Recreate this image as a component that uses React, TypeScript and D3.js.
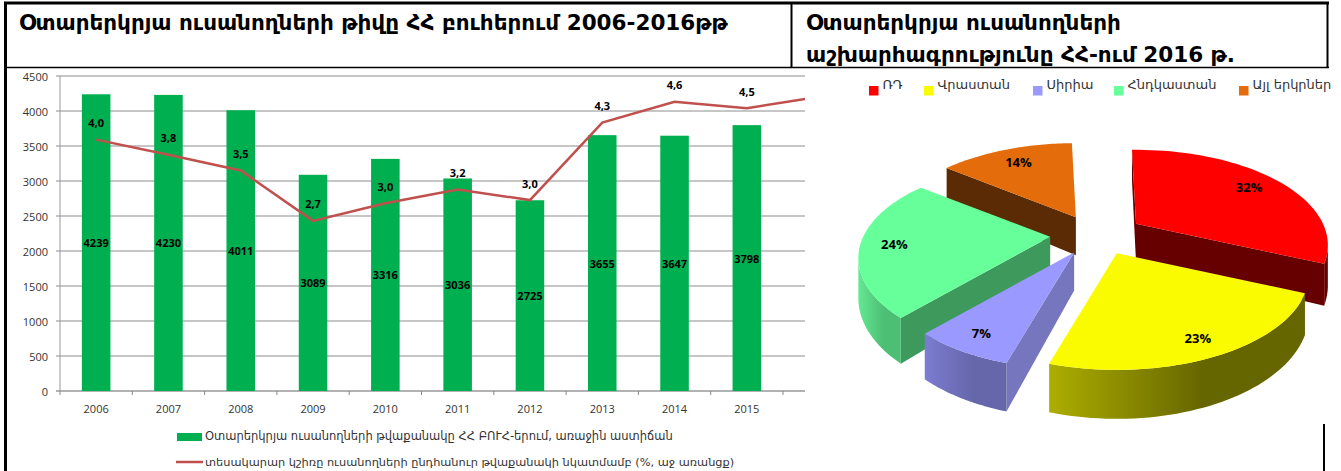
import React from "react";
import * as d3 from "d3";

const years = ["2006","2007","2008","2009","2010","2011","2012","2013","2014","2015","2016"];
const students = [4239,4230,4011,3089,3316,3036,2725,3655,3647,3798];
const shares = [3.99,3.75,3.5,2.7,2.98,3.2,3.03,4.26,4.59,4.49,4.67];
const yTicks = [0,500,1000,1500,2000,2500,3000,3500,4000,4500];
const sliceNames = ["ՌԴ","Վրաստան","Սիրիա","Հնդկաստան","Այլ երկրներ"];
const sliceValues = [32,23,7,24,14];
const sliceTop = ["#FF0000","#FBFB00","#9999FF","#66FF99","#E46C0A"];
const sliceWall = ["#660000","#666600","#7676BF","#3D995C","#5A2B04"];
const sliceRimFrom = ["#660000","#ADAD00","#7C7CD2","#64E892","#5A2B04"];
const sliceRimTo = ["#660000","#666600","#6666AA","#4CBF74","#5A2B04"];
const titleLeft = "Օտարերկրյա ուսանողների թիվը ՀՀ բուհերում 2006-2016թթ";
const titleRight = ["Օտարերկրյա ուսանողների","աշխարհագրությունը ՀՀ-ում 2016 թ."];
const legendBar = "Օտարերկրյա ուսանողների թվաքանակը ՀՀ ԲՈՒՀ-երում, առաջին աստիճան";
const legendLine = "տեսակարար կշիռը ուսանողների ընդհանուր թվաքանակի նկատմամբ (%, աջ առանցք)";

const font = "'DejaVu Sans', 'Noto Sans', sans-serif";
const axisFont = "'Open Sans', 'Liberation Sans', sans-serif";

const plotLeft = 60, plotRight = 805, plotTop = 76, plotBottom = 391, step = 72.3;
const x = d3.scaleBand<string>().domain(years).range([plotLeft, plotLeft + step * years.length]).paddingInner(0.605).paddingOuter(0.3025);
const y = d3.scaleLinear().domain([0, 4500]).range([plotBottom, plotTop]);
const yShare = d3.scaleLinear().domain([0, 5]).range([plotBottom, plotTop]);
const cx = (yr: string) => (x(yr) as number) + x.bandwidth() / 2;
const linePath = d3.line<number>().x((_, i) => cx(years[i])).y(d => yShare(d))(shares) as string;

// 3D pie projection
const center = { x: 1097, y: 235 };
const rx = 187, ry = 90.6, persp = 0.224, depth = 38, ex = 47, ey = 20, startAngle = -1.5;
const pieArcs = d3.pie<number>().sort(null).startAngle(startAngle * Math.PI / 180).endAngle((360 + startAngle) * Math.PI / 180)(sliceValues);
const proj = (t: number, r = 1) => {
  const u = Math.sin(t), v = -Math.cos(t);
  const k = 1 / (1 - persp * v);
  return { x: rx * u * k * r, y: ry * v * k * r, k };
};
const pathOf = (pts: [number, number][]) => (d3.line()(pts) as string) + "Z";

function Slice({ i }: { i: number }) {
  const a = pieArcs[i];
  const mid = (a.startAngle + a.endAngle) / 2;
  const ax = center.x + ex * Math.sin(mid), ay = center.y - ey * Math.cos(mid);
  const n = 48;
  const ts = d3.range(n + 1).map(j => a.startAngle + (a.endAngle - a.startAngle) * j / n);
  const pt = (t: number) => { const p = proj(t); return { x: ax + p.x, y: ay + p.y, d: depth * p.k }; };
  const arcPts = ts.map(pt);
  const top: [number, number][] = [[ax, ay], ...arcPts.map(p => [p.x, p.y] as [number, number])];
  const first = arcPts[0], last = arcPts[n];
  const rimPts = arcPts.filter((p, j) => j === n ? arcPts[j - 1].x > p.x : arcPts[j + 1].x < p.x);
  const rim: [number, number][] = [...rimPts.map(p => [p.x, p.y] as [number, number]), ...rimPts.slice().reverse().map(p => [p.x, p.y + p.d] as [number, number])];
  const xs = rimPts.map(p => p.x);
  const gid = `rim${i}`;
  return (
    <g>
      <defs>
        <linearGradient id={gid} gradientUnits="userSpaceOnUse" x1={d3.min(xs) ?? 0} x2={(d3.min(xs) ?? 0) + ((d3.max(xs) ?? 1) - (d3.min(xs) ?? 0)) * 0.6} y1={0} y2={0}>
          <stop offset="0" stopColor={sliceRimFrom[i]} />
          <stop offset="1" stopColor={sliceRimTo[i]} />
        </linearGradient>
      </defs>
      {first.x < ax && <path d={pathOf([[ax, ay], [first.x, first.y], [first.x, first.y + first.d], [ax, ay + depth]])} fill={sliceWall[i]} />}
      {last.x > ax && <path d={pathOf([[last.x, last.y], [ax, ay], [ax, ay + depth], [last.x, last.y + last.d]])} fill={sliceWall[i]} />}
      {rimPts.length > 1 && <path d={pathOf(rim)} fill={`url(#${gid})`} />}
      <path d={pathOf(top)} fill={sliceTop[i]} />
    </g>
  );
}

function SliceLabel({ i }: { i: number }) {
  const a = pieArcs[i];
  const mid = (a.startAngle + a.endAngle) / 2;
  const ax = center.x + ex * Math.sin(mid), ay = center.y - ey * Math.cos(mid);
  const p = proj(mid, 0.82);
  return <text x={ax + p.x} y={ay + p.y} textAnchor="middle" dominantBaseline="central" fontFamily={axisFont} fontSize={13} fontWeight={700} fill="#000">{sliceValues[i]}%</text>;
}

const legendX = [869, 924, 1033, 1114, 1239];
const paintOrder = [4, 0, 3, 2, 1];

export default function App() {
  return (
    <svg width={1341} height={471} style={{ position: "absolute", left: 0, top: 0, background: "#fff" }}>
      <defs><clipPath id="plotClip"><rect x={0} y={60} width={plotRight} height={360} /></clipPath></defs>

      {yTicks.map(t => <line key={t} x1={plotLeft - 4} x2={plotRight} y1={y(t)} y2={y(t)} stroke={t === 0 ? "#999" : "#b3b3b3"} strokeWidth={1.3} />)}
      <line x1={plotLeft} x2={plotLeft} y1={plotTop} y2={plotBottom} stroke="#999" strokeWidth={1} />
      {d3.range(years.length + 1).map(i => {
        const tx = plotLeft + step * i;
        return tx <= plotRight ? <line key={i} x1={tx} x2={tx} y1={plotBottom} y2={plotBottom + 4} stroke="#888" strokeWidth={1} /> : null;
      })}
      {yTicks.map(t => <text key={t} x={48} y={y(t)} textAnchor="end" dominantBaseline="central" fontFamily={axisFont} fontSize={11} fill="#333">{t}</text>)}

      <g clipPath="url(#plotClip)">
        {students.map((v, i) => <rect key={i} x={x(years[i])} y={y(v)} width={x.bandwidth()} height={plotBottom - y(v)} fill="#00B050" />)}
        <path d={linePath} fill="none" stroke="#C0504D" strokeWidth={2.5} />
      </g>

      {students.map((v, i) => <text key={i} x={cx(years[i])} y={y(v / 2)} textAnchor="middle" dominantBaseline="central" fontFamily={axisFont} fontSize={11} fontWeight={700} fill="#000">{v}</text>)}
      {students.map((_, i) => <text key={i} x={cx(years[i])} y={yShare(shares[i]) - 17} textAnchor="middle" dominantBaseline="central" fontFamily={axisFont} fontSize={11} fontWeight={700} fill="#000">{shares[i].toFixed(1).replace(".", ",")}</text>)}
      {students.map((_, i) => <text key={i} x={cx(years[i])} y={408} textAnchor="middle" dominantBaseline="central" fontFamily={axisFont} fontSize={11} fill="#333">{years[i]}</text>)}

      <rect x={177} y={433} width={25} height={8} fill="#00B050" />
      <text x={205} y={436} dominantBaseline="central" fontFamily={font} fontSize={11.5} fill="#333">{legendBar}</text>
      <line x1={176} x2={203} y1={462} y2={462} stroke="#C0504D" strokeWidth={2.5} />
      <text x={205} y={462} dominantBaseline="central" fontFamily={font} fontSize={11.35} fill="#333">{legendLine}</text>

      {sliceNames.map((n, i) => (
        <g key={n}>
          <rect x={legendX[i]} y={86} width={9.5} height={9.5} fill={sliceTop[i]} />
          <text x={legendX[i] + 13.5} y={84} dominantBaseline="central" fontFamily={font} fontSize={13} fill="#333">{n}</text>
        </g>
      ))}

      {paintOrder.map(i => <Slice key={i} i={i} />)}
      {paintOrder.map(i => <SliceLabel key={i} i={i} />)}

      <g stroke="#000">
        <line x1={4} x2={1329} y1={3} y2={3} strokeWidth={3} />
        <line x1={5.5} x2={5.5} y1={2} y2={471} strokeWidth={3} />
        <line x1={5} x2={1329} y1={67.5} y2={67.5} strokeWidth={1.5} />
        <line x1={791.5} x2={791.5} y1={3} y2={68} strokeWidth={2} />
        <line x1={1327.5} x2={1327.5} y1={2} y2={68} strokeWidth={2} />
        <line x1={1324} x2={1324} y1={424} y2={471} strokeWidth={2} />
      </g>
      <text x={19} y={30} fontFamily={font} fontSize={21.5} fontWeight={700} fill="#000">{titleLeft}</text>
      <text x={806} y={30} fontFamily={font} fontSize={21.5} fontWeight={700} fill="#000">{titleRight[0]}</text>
      <text x={806} y={62} fontFamily={font} fontSize={21.5} fontWeight={700} fill="#000">{titleRight[1]}</text>
    </svg>
  );
}
